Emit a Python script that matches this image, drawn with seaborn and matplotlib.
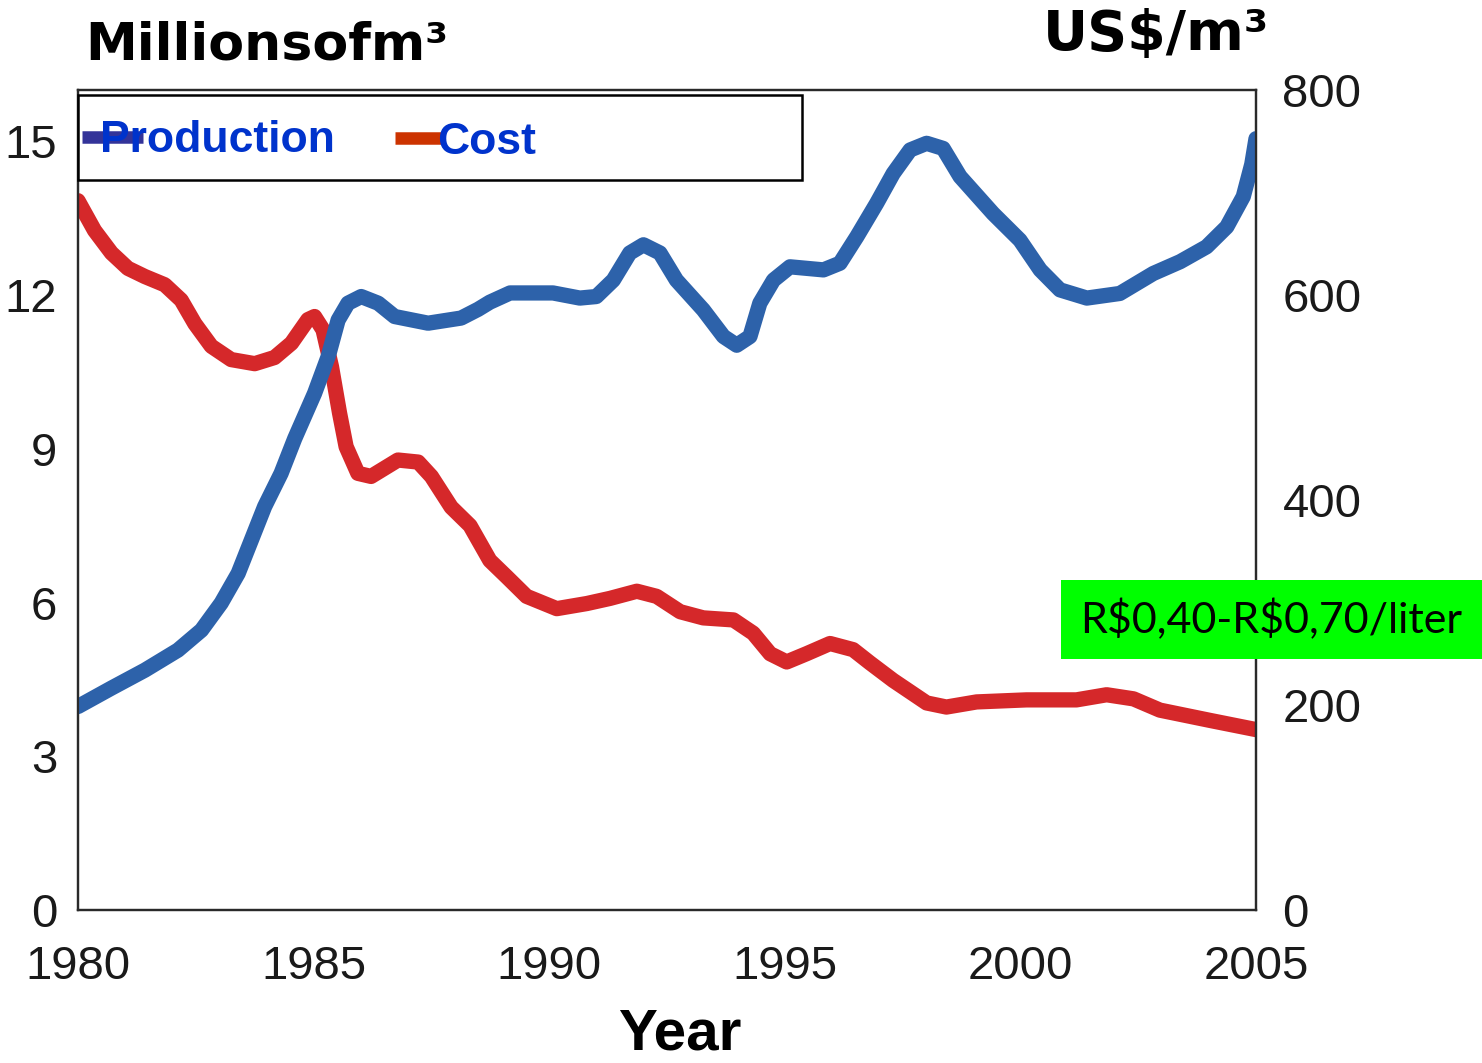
import matplotlib
matplotlib.use("Agg")
import matplotlib.pyplot as plt
import seaborn as sns
from matplotlib.lines import Line2D
from matplotlib.patches import Rectangle

# ethanol production (left axis, millions of m3)
prod_years = [1980.0, 1980.71, 1981.42, 1982.12, 1982.62, 1983.04, 1983.4, 1983.68, 1983.96, 1984.31,
              1984.6, 1985.02, 1985.31, 1985.52, 1985.73, 1986.01, 1986.37, 1986.72, 1987.43, 1988.13,
              1988.49, 1988.74, 1989.17, 1990.08, 1990.65, 1991.0, 1991.36, 1991.71, 1992.0, 1992.35,
              1992.7, 1993.27, 1993.7, 1993.98, 1994.26, 1994.47, 1994.76, 1995.11, 1995.82, 1996.17,
              1996.53, 1996.95, 1997.3, 1997.66, 1998.01, 1998.36, 1998.72, 1999.42, 1999.99, 2000.42,
              2000.84, 2001.41, 2002.11, 2002.82, 2003.39, 2003.95, 2004.38, 2004.73, 2004.91, 2005.0]
production = [3.97, 4.33, 4.68, 5.07, 5.46, 5.99, 6.57, 7.22, 7.87, 8.52,
              9.2, 10.08, 10.8, 11.51, 11.84, 11.97, 11.84, 11.58, 11.45, 11.55,
              11.72, 11.86, 12.04, 12.04, 11.94, 11.97, 12.29, 12.82, 12.98, 12.82,
              12.29, 11.71, 11.19, 11.02, 11.19, 11.84, 12.29, 12.55, 12.49, 12.62,
              13.14, 13.79, 14.37, 14.83, 14.96, 14.86, 14.31, 13.59, 13.07, 12.49,
              12.1, 11.94, 12.03, 12.42, 12.65, 12.94, 13.33, 13.92, 14.55, 15.05]

# ethanol cost (right axis, US$/m3)
cost_years = [1980.0, 1980.35, 1980.71, 1981.06, 1981.42, 1981.84, 1982.19, 1982.48, 1982.83, 1983.25,
              1983.75, 1984.17, 1984.53, 1984.88, 1985.02, 1985.2, 1985.38, 1985.55, 1985.69, 1985.94,
              1986.22, 1986.79, 1987.22, 1987.5, 1987.92, 1988.32, 1988.74, 1989.1, 1989.52, 1990.16,
              1990.8, 1991.29, 1991.86, 1992.28, 1992.78, 1993.27, 1993.91, 1994.33, 1994.69, 1995.04,
              1995.46, 1995.96, 1996.45, 1996.81, 1997.3, 1998.01, 1998.43, 1999.07, 2000.13, 2001.19,
              2001.83, 2002.4, 2002.96, 2004.02, 2005.0]
cost = [692, 663, 641, 626, 618, 610, 595, 572, 550, 537,
        533, 539, 553, 576, 579, 566, 530, 485, 452, 426,
        423, 439, 437, 423, 393, 375, 341, 325, 306, 294,
        299, 304, 311, 306, 291, 285, 283, 270, 250, 242,
        250, 260, 254, 241, 224, 202, 198, 203, 205, 205,
        210, 206, 195, 185, 176]

x_ticks = [1980, 1985, 1990, 1995, 2000, 2005]
left_ticks = [0, 3, 6, 9, 12, 15]
right_ticks = [0, 200, 400, 600, 800]

sns.set_theme(style="white")
plt.rcParams["font.family"] = ["Liberation Sans", "DejaVu Sans"]

fig = plt.figure(figsize=(14.82, 10.63), dpi=100)
ax = fig.add_axes([78 / 1482, 1 - 910 / 1063, (1256 - 78) / 1482, (910 - 90) / 1063])
ax2 = ax.twinx()

blue = "#2D62AA"
red = "#D5282A"

sns.lineplot(x=cost_years, y=cost, ax=ax2, color=red, linewidth=11,
             solid_capstyle="round", solid_joinstyle="round")
sns.lineplot(x=prod_years, y=production, ax=ax, color=blue, linewidth=11,
             solid_capstyle="round", solid_joinstyle="round")

# production line sits above cost line
ax.set_zorder(ax2.get_zorder() + 1)
ax.patch.set_visible(False)

ax.set_xlim(1980, 2005)
ax.set_ylim(0, 16)
ax2.set_ylim(0, 800)
ax.set_xticks(x_ticks)
ax.set_yticks(left_ticks)
ax2.set_yticks(right_ticks)
ax.set_xlabel("")
ax.set_ylabel("")
ax2.set_ylabel("")

ax.tick_params(axis="x", length=0, pad=25, labelsize=34, labelcolor="#1a1a1a")
ax.tick_params(axis="y", length=0, pad=15, labelsize=34, labelcolor="#1a1a1a")
ax2.tick_params(axis="y", length=0, pad=19, labelsize=34, labelcolor="#1a1a1a")
ax2.grid(False)
ax.grid(False)

for a in (ax, ax2):
    for s in a.spines.values():
        s.set_color("#2a2a2a")
        s.set_linewidth(1.6)

# legend box
ax.add_patch(Rectangle((0, 0.89), 0.615, 0.104, transform=ax.transAxes,
                       facecolor="white", edgecolor="black", linewidth=1.8,
                       zorder=5, clip_on=False))
leg_font = {"family": "Liberation Sans", "weight": "bold", "size": 32}
h1 = [Line2D([], [], color="#333399", linewidth=9, solid_capstyle="butt")]
h2 = [Line2D([], [], color="#CC3300", linewidth=9, solid_capstyle="butt")]
leg1 = ax.legend(h1, ["Production"], loc="center left", bbox_to_anchor=(0.0034, 0.938),
                 frameon=False, borderpad=0, borderaxespad=0, handlelength=1.37,
                 handletextpad=-0.97, prop=leg_font, labelcolor="#0033CC")
leg1.set_zorder(6)
ax.add_artist(leg1)
leg2 = ax.legend(h2, ["Cost"], loc="center left", bbox_to_anchor=(0.269, 0.936),
                 frameon=False, borderpad=0, borderaxespad=0, handlelength=1.03,
                 handletextpad=-0.07, prop=leg_font, labelcolor="#0033CC")
leg2.set_zorder(6)

# axis titles
fig.text(85 / 1482, 1 - 45 / 1063, "Millionsofm³", family="DejaVu Sans",
         weight="bold", size=37.5, ha="left", va="center", color="black")
fig.text(1043 / 1482, 1 - 35 / 1063, "US$/m³", family="DejaVu Sans",
         weight="bold", size=40, ha="left", va="center", color="black")
fig.text(680 / 1482, 1 - 1050 / 1063, "Year", family="Liberation Sans",
         weight="bold", size=42, ha="center", va="baseline", color="black")

# green price note
fig.patches.append(Rectangle((1061 / 1482, 1 - 659 / 1063), 421 / 1482, 79 / 1063,
                             transform=fig.transFigure, facecolor="#00FF00",
                             edgecolor="none", zorder=10))
fig.text(1271 / 1482, 1 - 620 / 1063, "R\\$0,40-R\\$0,70/liter", family="Lato",
         size=31, ha="center", va="center", color="black", zorder=11)

fig.savefig("out.png", dpi=100)
